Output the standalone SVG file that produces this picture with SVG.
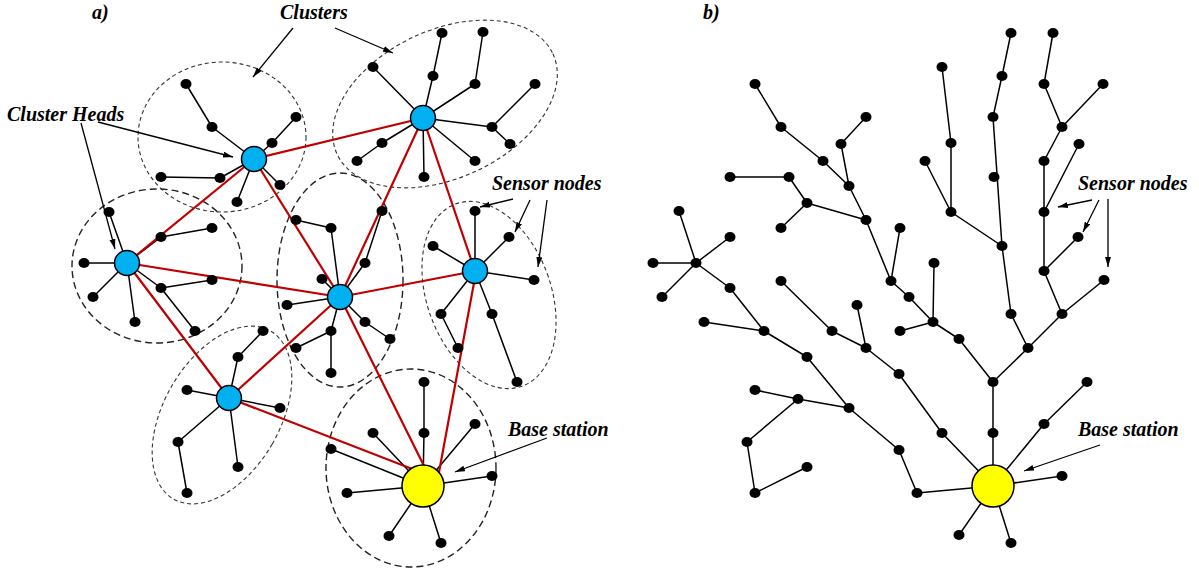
<svg xmlns="http://www.w3.org/2000/svg" width="1199" height="572" viewBox="0 0 1199 572">
  <style>
    .s{fill:none;stroke:#000;stroke-width:1.5;stroke-linejoin:round}
    .r{fill:none;stroke:#c00000;stroke-width:2.2}
    .d{fill:#000}
    .ch{fill:#00b0f0;stroke:#000;stroke-width:1.5}
    .bs{fill:#ffff00;stroke:#000;stroke-width:1.5}
    .cf{fill:none;stroke:#333;stroke-width:1.1;stroke-dasharray:4 3}
    .cw{fill:none;stroke:#222;stroke-width:1.4;stroke-dasharray:7 4}
    .a{fill:none;stroke:#000;stroke-width:1.3;marker-end:url(#ah)}
    text{font-family:"Liberation Serif","Times New Roman",serif;font-weight:bold;font-style:italic;font-size:20px;fill:#000}
  </style>
  <defs>
    <marker id="ah" markerUnits="userSpaceOnUse" markerWidth="11" markerHeight="7" refX="10" refY="3" orient="auto">
      <path d="M0,0 L10,3 L0,6 z" fill="#000"/>
    </marker>
  </defs>
  <rect width="1199" height="572" fill="#fff"/>

  <!-- cluster boundaries -->
  <g id="clusters">
    <ellipse class="cf" cx="222" cy="137" rx="84" ry="75"/>
    <ellipse class="cw" cx="157" cy="266" rx="85" ry="77"/>
    <ellipse class="cf" cx="445" cy="104" rx="119" ry="74" transform="rotate(-25 445 104)"/>
    <ellipse class="cw" cx="340" cy="280" rx="63" ry="107"/>
    <ellipse class="cf" cx="489" cy="295" rx="62" ry="97" transform="rotate(-20 489 295)"/>
    <ellipse class="cf" cx="222" cy="415" rx="58" ry="97" transform="rotate(30 222 415)"/>
    <ellipse class="cw" cx="411" cy="468" rx="85" ry="99"/>
  </g>

  <!-- links -->
  <g id="connectors">
    <g id="sensor-links-a">
      <path class="s" d="M254 159L212 127L186 84M254 159L220 178L161 177M254 159L237 202M254 159L272 143L296 117M254 159L280 185"/>
      <path class="s" d="M127 263L109 212M127 263L84 263M127 263L93 297M127 263L135 322M127 263L161 237L212 228M127 263L161 288L212 280M161 288L195 331"/>
      <path class="s" d="M423 118L373 67M423 118L433 76L442 33M423 118L475 84L483 32M423 118L492 127L535 84M492 127L510 144M423 118L475 161M423 118L424 177M423 118L382 143L357 161"/>
      <path class="s" d="M340 297L331 228L296 220M340 297L365 263L382 211M340 297L322 279M340 297L287 305M340 297L365 322L390 339M340 297L331 331L331 373M331 331L296 348"/>
      <path class="s" d="M475 271L475 211M475 271L433 246M475 271L509 237M475 271L534 280M475 271L441 314L458 348M475 271L492 314L517 382"/>
      <path class="s" d="M229 398L238 357L263 331M229 398L187 390M229 398L280 408M229 398L178 442L187 493M229 398L238 467"/>
      <path class="s" d="M423 486L424 433L424 382M423 486L373 433M423 486L475 424M423 486L331 449M423 486L347 493M423 486L492 476M423 486L389 536M423 486L441 543"/>
    </g>
    <g id="head-links">
      <path class="r" d="M254 159L423 118M254 159L127 263M254 159L340 297M127 263L340 297M127 263L229 398M423 118L340 297M423 118L475 271M340 297L475 271M340 297L229 398M340 297L431 480M476 272L437 483M229 398L420 472"/>
    </g>
    <g id="tree-links-b">
      <path class="s" d="M755 84L781 127L823 161L849 186M866 117L841 144L849 186"/>
      <path class="s" d="M849 186L866 220L891 281L909 297L933 322L959 339L993 382L993 433L993 486"/>
      <path class="s" d="M730 177L789 177L807 203L781 228M807 203L866 220M900 228L891 281M934 263L933 322M900 331L933 322"/>
      <path class="s" d="M679 211L696 263M730 237L696 263M653 263L696 263M662 297L696 263"/>
      <path class="s" d="M696 263L730 288L764 331L807 357L849 408L899 450L917 493L993 486M704 322L764 331"/>
      <path class="s" d="M755 390L798 399L849 408M798 399L747 442L755 493L807 467"/>
      <path class="s" d="M781 281L832 331L866 348L899 374L942 433L993 486M857 305L866 348"/>
      <path class="s" d="M1011 33L1002 76L993 117L1002 246L1011 314L1028 348L993 382M942 67L951 143L951 212L1002 246M925 161L951 212"/>
      <path class="s" d="M1053 33L1044 84L1062 127L1044 161L1044 212L1044 271L1062 314L1028 348M1103 84L1062 127M1079 144L1044 212M1078 237L1044 271M1062 314L1104 280"/>
      <path class="s" d="M993 486L1044 424L1087 382M993 486L1062 476M993 486L959 535M993 486L1011 543"/>
    </g>
    <g id="label-arrows">
      <path class="a" d="M293 28L253 77"/>
      <path class="a" d="M335 28L393 53"/>
      <path class="a" d="M98 122L233 157"/>
      <path class="a" d="M81 123L115 249"/>
      <path class="a" d="M513 199L480 207"/>
      <path class="a" d="M530 200L515 232"/>
      <path class="a" d="M547 200L538 267"/>
      <path class="a" d="M547 438L455 472"/>
      <path class="a" d="M1092 200L1058 207"/>
      <path class="a" d="M1099 200L1083 232"/>
      <path class="a" d="M1108 199L1108 267"/>
      <path class="a" d="M1100 445L1024 471"/>
    </g>
  </g>

  <!-- sensor nodes, network a -->
  <g id="sensors-a">
    <g id="a1"><ellipse class="d" cx="212" cy="127" rx="5.5" ry="5"/></g>
    <g id="a2"><ellipse class="d" cx="186" cy="84" rx="5.5" ry="5"/></g>
    <g id="a3"><ellipse class="d" cx="220" cy="178" rx="5.5" ry="5"/></g>
    <g id="a4"><ellipse class="d" cx="161" cy="177" rx="5.5" ry="5"/></g>
    <g id="a5"><ellipse class="d" cx="237" cy="202" rx="5.5" ry="5"/></g>
    <g id="a6"><ellipse class="d" cx="272" cy="143" rx="5.5" ry="5"/></g>
    <g id="a7"><ellipse class="d" cx="296" cy="117" rx="5.5" ry="5"/></g>
    <g id="a8"><ellipse class="d" cx="280" cy="185" rx="5.5" ry="5"/></g>
    <g id="a9"><ellipse class="d" cx="109" cy="212" rx="5.5" ry="5"/></g>
    <g id="a10"><ellipse class="d" cx="84" cy="263" rx="5.5" ry="5"/></g>
    <g id="a11"><ellipse class="d" cx="93" cy="297" rx="5.5" ry="5"/></g>
    <g id="a12"><ellipse class="d" cx="135" cy="322" rx="5.5" ry="5"/></g>
    <g id="a13"><ellipse class="d" cx="161" cy="237" rx="5.5" ry="5"/></g>
    <g id="a14"><ellipse class="d" cx="212" cy="228" rx="5.5" ry="5"/></g>
    <g id="a15"><ellipse class="d" cx="161" cy="288" rx="5.5" ry="5"/></g>
    <g id="a16"><ellipse class="d" cx="212" cy="280" rx="5.5" ry="5"/></g>
    <g id="a17"><ellipse class="d" cx="195" cy="331" rx="5.5" ry="5"/></g>
    <g id="a18"><ellipse class="d" cx="373" cy="67" rx="5.5" ry="5"/></g>
    <g id="a19"><ellipse class="d" cx="433" cy="76" rx="5.5" ry="5"/></g>
    <g id="a20"><ellipse class="d" cx="442" cy="33" rx="5.5" ry="5"/></g>
    <g id="a21"><ellipse class="d" cx="475" cy="84" rx="5.5" ry="5"/></g>
    <g id="a22"><ellipse class="d" cx="483" cy="32" rx="5.5" ry="5"/></g>
    <g id="a23"><ellipse class="d" cx="492" cy="127" rx="5.5" ry="5"/></g>
    <g id="a24"><ellipse class="d" cx="535" cy="84" rx="5.5" ry="5"/></g>
    <g id="a25"><ellipse class="d" cx="510" cy="144" rx="5.5" ry="5"/></g>
    <g id="a26"><ellipse class="d" cx="475" cy="161" rx="5.5" ry="5"/></g>
    <g id="a27"><ellipse class="d" cx="424" cy="177" rx="5.5" ry="5"/></g>
    <g id="a28"><ellipse class="d" cx="382" cy="143" rx="5.5" ry="5"/></g>
    <g id="a29"><ellipse class="d" cx="357" cy="161" rx="5.5" ry="5"/></g>
    <g id="a30"><ellipse class="d" cx="331" cy="228" rx="5.5" ry="5"/></g>
    <g id="a31"><ellipse class="d" cx="296" cy="220" rx="5.5" ry="5"/></g>
    <g id="a32"><ellipse class="d" cx="365" cy="263" rx="5.5" ry="5"/></g>
    <g id="a33"><ellipse class="d" cx="382" cy="211" rx="5.5" ry="5"/></g>
    <g id="a34"><ellipse class="d" cx="322" cy="279" rx="5.5" ry="5"/></g>
    <g id="a35"><ellipse class="d" cx="287" cy="305" rx="5.5" ry="5"/></g>
    <g id="a36"><ellipse class="d" cx="365" cy="322" rx="5.5" ry="5"/></g>
    <g id="a37"><ellipse class="d" cx="390" cy="339" rx="5.5" ry="5"/></g>
    <g id="a38"><ellipse class="d" cx="331" cy="331" rx="5.5" ry="5"/></g>
    <g id="a39"><ellipse class="d" cx="331" cy="373" rx="5.5" ry="5"/></g>
    <g id="a40"><ellipse class="d" cx="296" cy="348" rx="5.5" ry="5"/></g>
    <g id="a41"><ellipse class="d" cx="475" cy="211" rx="5.5" ry="5"/></g>
    <g id="a42"><ellipse class="d" cx="433" cy="246" rx="5.5" ry="5"/></g>
    <g id="a43"><ellipse class="d" cx="509" cy="237" rx="5.5" ry="5"/></g>
    <g id="a44"><ellipse class="d" cx="534" cy="280" rx="5.5" ry="5"/></g>
    <g id="a45"><ellipse class="d" cx="441" cy="314" rx="5.5" ry="5"/></g>
    <g id="a46"><ellipse class="d" cx="458" cy="348" rx="5.5" ry="5"/></g>
    <g id="a47"><ellipse class="d" cx="492" cy="314" rx="5.5" ry="5"/></g>
    <g id="a48"><ellipse class="d" cx="517" cy="382" rx="5.5" ry="5"/></g>
    <g id="a49"><ellipse class="d" cx="238" cy="357" rx="5.5" ry="5"/></g>
    <g id="a50"><ellipse class="d" cx="263" cy="331" rx="5.5" ry="5"/></g>
    <g id="a51"><ellipse class="d" cx="187" cy="390" rx="5.5" ry="5"/></g>
    <g id="a52"><ellipse class="d" cx="280" cy="408" rx="5.5" ry="5"/></g>
    <g id="a53"><ellipse class="d" cx="178" cy="442" rx="5.5" ry="5"/></g>
    <g id="a54"><ellipse class="d" cx="187" cy="493" rx="5.5" ry="5"/></g>
    <g id="a55"><ellipse class="d" cx="238" cy="467" rx="5.5" ry="5"/></g>
    <g id="a56"><ellipse class="d" cx="424" cy="433" rx="5.5" ry="5"/></g>
    <g id="a57"><ellipse class="d" cx="424" cy="382" rx="5.5" ry="5"/></g>
    <g id="a58"><ellipse class="d" cx="373" cy="433" rx="5.5" ry="5"/></g>
    <g id="a59"><ellipse class="d" cx="475" cy="424" rx="5.5" ry="5"/></g>
    <g id="a60"><ellipse class="d" cx="331" cy="449" rx="5.5" ry="5"/></g>
    <g id="a61"><ellipse class="d" cx="347" cy="493" rx="5.5" ry="5"/></g>
    <g id="a62"><ellipse class="d" cx="492" cy="476" rx="5.5" ry="5"/></g>
    <g id="a63"><ellipse class="d" cx="389" cy="536" rx="5.5" ry="5"/></g>
    <g id="a64"><ellipse class="d" cx="441" cy="543" rx="5.5" ry="5"/></g>
  </g>

  <!-- cluster heads and sink, network a -->
  <g id="head-1"><circle class="ch" cx="254" cy="159" r="12.5"/></g>
  <g id="head-2"><circle class="ch" cx="127" cy="263" r="12.5"/></g>
  <g id="head-3"><circle class="ch" cx="423" cy="118" r="12.5"/></g>
  <g id="head-4"><circle class="ch" cx="340" cy="297" r="12.5"/></g>
  <g id="head-5"><circle class="ch" cx="475" cy="271" r="12.5"/></g>
  <g id="head-6"><circle class="ch" cx="229" cy="398" r="12.5"/></g>
  <g id="base-a"><circle class="bs" cx="423" cy="486" r="21"/></g>

  <!-- sensor nodes, network b -->
  <g id="sensors-b">
    <g id="b1"><ellipse class="d" cx="755" cy="84" rx="5.5" ry="5"/></g>
    <g id="b2"><ellipse class="d" cx="781" cy="127" rx="5.5" ry="5"/></g>
    <g id="b3"><ellipse class="d" cx="823" cy="161" rx="5.5" ry="5"/></g>
    <g id="b4"><ellipse class="d" cx="849" cy="186" rx="5.5" ry="5"/></g>
    <g id="b5"><ellipse class="d" cx="841" cy="144" rx="5.5" ry="5"/></g>
    <g id="b6"><ellipse class="d" cx="866" cy="117" rx="5.5" ry="5"/></g>
    <g id="b7"><ellipse class="d" cx="730" cy="177" rx="5.5" ry="5"/></g>
    <g id="b8"><ellipse class="d" cx="789" cy="177" rx="5.5" ry="5"/></g>
    <g id="b9"><ellipse class="d" cx="807" cy="203" rx="5.5" ry="5"/></g>
    <g id="b10"><ellipse class="d" cx="781" cy="228" rx="5.5" ry="5"/></g>
    <g id="b11"><ellipse class="d" cx="866" cy="220" rx="5.5" ry="5"/></g>
    <g id="b12"><ellipse class="d" cx="679" cy="211" rx="5.5" ry="5"/></g>
    <g id="b13"><ellipse class="d" cx="730" cy="237" rx="5.5" ry="5"/></g>
    <g id="b14"><ellipse class="d" cx="653" cy="263" rx="5.5" ry="5"/></g>
    <g id="b15"><ellipse class="d" cx="696" cy="263" rx="5.5" ry="5"/></g>
    <g id="b16"><ellipse class="d" cx="730" cy="288" rx="5.5" ry="5"/></g>
    <g id="b17"><ellipse class="d" cx="781" cy="281" rx="5.5" ry="5"/></g>
    <g id="b18"><ellipse class="d" cx="891" cy="281" rx="5.5" ry="5"/></g>
    <g id="b19"><ellipse class="d" cx="900" cy="228" rx="5.5" ry="5"/></g>
    <g id="b20"><ellipse class="d" cx="909" cy="297" rx="5.5" ry="5"/></g>
    <g id="b21"><ellipse class="d" cx="662" cy="297" rx="5.5" ry="5"/></g>
    <g id="b22"><ellipse class="d" cx="704" cy="322" rx="5.5" ry="5"/></g>
    <g id="b23"><ellipse class="d" cx="764" cy="331" rx="5.5" ry="5"/></g>
    <g id="b24"><ellipse class="d" cx="807" cy="357" rx="5.5" ry="5"/></g>
    <g id="b25"><ellipse class="d" cx="832" cy="331" rx="5.5" ry="5"/></g>
    <g id="b26"><ellipse class="d" cx="857" cy="305" rx="5.5" ry="5"/></g>
    <g id="b27"><ellipse class="d" cx="866" cy="348" rx="5.5" ry="5"/></g>
    <g id="b28"><ellipse class="d" cx="899" cy="374" rx="5.5" ry="5"/></g>
    <g id="b29"><ellipse class="d" cx="900" cy="331" rx="5.5" ry="5"/></g>
    <g id="b30"><ellipse class="d" cx="755" cy="390" rx="5.5" ry="5"/></g>
    <g id="b31"><ellipse class="d" cx="798" cy="399" rx="5.5" ry="5"/></g>
    <g id="b32"><ellipse class="d" cx="849" cy="408" rx="5.5" ry="5"/></g>
    <g id="b33"><ellipse class="d" cx="899" cy="450" rx="5.5" ry="5"/></g>
    <g id="b34"><ellipse class="d" cx="747" cy="442" rx="5.5" ry="5"/></g>
    <g id="b35"><ellipse class="d" cx="755" cy="493" rx="5.5" ry="5"/></g>
    <g id="b36"><ellipse class="d" cx="807" cy="467" rx="5.5" ry="5"/></g>
    <g id="b37"><ellipse class="d" cx="933" cy="322" rx="5.5" ry="5"/></g>
    <g id="b38"><ellipse class="d" cx="959" cy="339" rx="5.5" ry="5"/></g>
    <g id="b39"><ellipse class="d" cx="993" cy="382" rx="5.5" ry="5"/></g>
    <g id="b40"><ellipse class="d" cx="942" cy="433" rx="5.5" ry="5"/></g>
    <g id="b41"><ellipse class="d" cx="993" cy="433" rx="5.5" ry="5"/></g>
    <g id="b42"><ellipse class="d" cx="917" cy="493" rx="5.5" ry="5"/></g>
    <g id="b43"><ellipse class="d" cx="1044" cy="424" rx="5.5" ry="5"/></g>
    <g id="b44"><ellipse class="d" cx="1087" cy="382" rx="5.5" ry="5"/></g>
    <g id="b45"><ellipse class="d" cx="1062" cy="476" rx="5.5" ry="5"/></g>
    <g id="b46"><ellipse class="d" cx="959" cy="535" rx="5.5" ry="5"/></g>
    <g id="b47"><ellipse class="d" cx="1011" cy="543" rx="5.5" ry="5"/></g>
    <g id="b48"><ellipse class="d" cx="1011" cy="314" rx="5.5" ry="5"/></g>
    <g id="b49"><ellipse class="d" cx="1062" cy="314" rx="5.5" ry="5"/></g>
    <g id="b50"><ellipse class="d" cx="1028" cy="348" rx="5.5" ry="5"/></g>
    <g id="b51"><ellipse class="d" cx="1104" cy="280" rx="5.5" ry="5"/></g>
    <g id="b52"><ellipse class="d" cx="934" cy="263" rx="5.5" ry="5"/></g>
    <g id="b53"><ellipse class="d" cx="925" cy="161" rx="5.5" ry="5"/></g>
    <g id="b54"><ellipse class="d" cx="951" cy="143" rx="5.5" ry="5"/></g>
    <g id="b55"><ellipse class="d" cx="951" cy="212" rx="5.5" ry="5"/></g>
    <g id="b56"><ellipse class="d" cx="993" cy="117" rx="5.5" ry="5"/></g>
    <g id="b57"><ellipse class="d" cx="994" cy="177" rx="5.5" ry="5"/></g>
    <g id="b58"><ellipse class="d" cx="1002" cy="246" rx="5.5" ry="5"/></g>
    <g id="b59"><ellipse class="d" cx="1044" cy="271" rx="5.5" ry="5"/></g>
    <g id="b60"><ellipse class="d" cx="1078" cy="237" rx="5.5" ry="5"/></g>
    <g id="b61"><ellipse class="d" cx="1044" cy="212" rx="5.5" ry="5"/></g>
    <g id="b62"><ellipse class="d" cx="1044" cy="161" rx="5.5" ry="5"/></g>
    <g id="b63"><ellipse class="d" cx="1079" cy="144" rx="5.5" ry="5"/></g>
    <g id="b64"><ellipse class="d" cx="1062" cy="127" rx="5.5" ry="5"/></g>
    <g id="b65"><ellipse class="d" cx="1011" cy="33" rx="5.5" ry="5"/></g>
    <g id="b66"><ellipse class="d" cx="1053" cy="33" rx="5.5" ry="5"/></g>
    <g id="b67"><ellipse class="d" cx="942" cy="67" rx="5.5" ry="5"/></g>
    <g id="b68"><ellipse class="d" cx="1002" cy="76" rx="5.5" ry="5"/></g>
    <g id="b69"><ellipse class="d" cx="1044" cy="84" rx="5.5" ry="5"/></g>
    <g id="b70"><ellipse class="d" cx="1103" cy="84" rx="5.5" ry="5"/></g>
  </g>
  <g id="base-b"><circle class="bs" cx="993" cy="486" r="21"/></g>

  <!-- labels -->
  <g id="labels">
    <text x="92" y="19">a)</text>
    <text x="703" y="19">b)</text>
    <text x="280" y="19">Clusters</text>
    <text x="7" y="121">Cluster Heads</text>
    <text x="492" y="190">Sensor nodes</text>
    <text x="508" y="436">Base station</text>
    <text x="1078" y="190">Sensor nodes</text>
    <text x="1078" y="436">Base station</text>
  </g>
</svg>
